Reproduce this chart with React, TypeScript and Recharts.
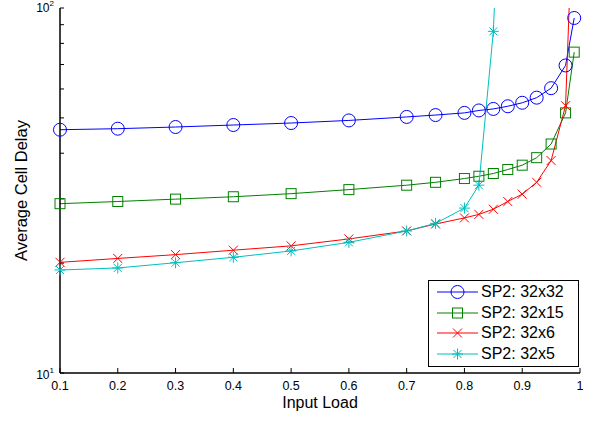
import React from "react";
import { LineChart, Line, XAxis, YAxis, Legend } from "recharts";

// x values (input load) shared by the three long runs
const inputLoad = [0.1, 0.2, 0.3, 0.4, 0.5, 0.6, 0.7, 0.75, 0.8, 0.825, 0.85, 0.875, 0.9, 0.925, 0.95, 0.975, 0.99];
const inputLoad32x5 = [0.1, 0.2, 0.3, 0.4, 0.5, 0.6, 0.7, 0.75, 0.8, 0.825, 0.85, 0.875];

const delay32x32 = [46.4, 46.7, 47.2, 47.8, 48.4, 49.2, 50.3, 50.9, 51.6, 52.4, 52.9, 53.8, 55.0, 56.8, 60.3, 69.6, 93.9];
const delay32x15 = [29.1, 29.5, 29.95, 30.4, 31.0, 31.8, 32.7, 33.3, 34.1, 34.6, 35.2, 36.1, 37.1, 38.9, 42.4, 51.6, 75.7];
const delay32x6 = [20.1, 20.6, 21.1, 21.7, 22.3, 23.3, 24.5, 25.6, 26.6, 27.2, 28.1, 29.5, 30.9, 33.3, 38.2, 54.0, 240];
const delay32x5 = [19.15, 19.4, 20.05, 20.75, 21.6, 22.8, 24.5, 25.7, 28.3, 32.7, 86.3, 700];

const xTicks = [0.1, 0.2, 0.3, 0.4, 0.5, 0.6, 0.7, 0.8, 0.9, 1];
const yTicks = [10, 20, 30, 40, 50, 60, 70, 80, 90, 100];

const FONT = '"Liberation Sans", Arial, Helvetica, sans-serif';

type Shape = "circle" | "square" | "cross" | "star";

const toRows = (xs: number[], ys: number[]) => xs.map((load, i) => ({ load, delay: ys[i] }));

const series = [
  { name: "SP2: 32x32", color: "#0000ff", shape: "circle" as Shape, data: toRows(inputLoad, delay32x32) },
  { name: "SP2: 32x15", color: "#008000", shape: "square" as Shape, data: toRows(inputLoad, delay32x15) },
  { name: "SP2: 32x6", color: "#ff0000", shape: "cross" as Shape, data: toRows(inputLoad, delay32x6) },
  { name: "SP2: 32x5", color: "#00bfbf", shape: "star" as Shape, data: toRows(inputLoad32x5, delay32x5) },
];

const frame = { stroke: "#000", strokeWidth: 1.5 };
const tickMark = { stroke: "#000", strokeWidth: 1 };

function Marker({ cx, cy, shape, color }: { cx: number; cy: number; shape: Shape; color: string }) {
  if (cx == null || cy == null || isNaN(cx) || isNaN(cy)) return <g />;
  const s = { stroke: color, strokeWidth: 1, fill: "none" };
  if (shape === "circle") return <circle cx={cx} cy={cy} r={6.5} {...s} />;
  if (shape === "square") return <rect x={cx - 5} y={cy - 5} width={10} height={10} {...s} />;
  if (shape === "cross")
    return (
      <path d={`M${cx - 4.5},${cy - 4.5}L${cx + 4.5},${cy + 4.5}M${cx - 4.5},${cy + 4.5}L${cx + 4.5},${cy - 4.5}`} {...s} />
    );
  return (
    <path
      d={`M${cx},${cy - 5.5}L${cx},${cy + 5.5}M${cx - 5.5},${cy}L${cx + 5.5},${cy}M${cx - 4},${cy - 4}L${cx + 4},${cy + 4}M${cx - 4},${cy + 4}L${cx + 4},${cy - 4}`}
      {...s}
    />
  );
}

function PowerTick({ x, y, payload }: any) {
  const v = payload.value;
  if (v !== 10 && v !== 100) return <g />;
  return (
    <text x={x} y={y + (v === 100 ? 4 : 6)} textAnchor="end" fontFamily={FONT} fontSize={12} fill="#000">
      <tspan>10</tspan>
      <tspan dy={-6} fontSize={8}>
        {Math.round(Math.log10(v))}
      </tspan>
    </text>
  );
}

function LegendBox() {
  return (
    <div
      style={{
        border: "1px solid #000",
        background: "#fff",
        boxSizing: "border-box",
        height: 87,
        paddingTop: 1,
        fontFamily: FONT,
        fontSize: 16,
        color: "#000",
      }}
    >
      {series.map((s) => (
        <div key={s.name} style={{ display: "flex", alignItems: "center", height: 20.6 }}>
          <svg width={52} height={20} style={{ display: "block" }}>
            <line x1={8} x2={49} y1={10} y2={10} stroke={s.color} strokeWidth={1} />
            <Marker cx={28.5} cy={10} shape={s.shape} color={s.color} />
          </svg>
          <span style={{ lineHeight: "20px" }}>{s.name}</span>
        </div>
      ))}
    </div>
  );
}

export default function App() {
  return (
    <div style={{ position: "absolute", left: 0, top: 0 }}>
      <LineChart width={594} height={422} margin={{ top: 8, right: 14, left: 0, bottom: 0 }}>
        <XAxis
          dataKey="load"
          type="number"
          domain={[0.1, 1]}
          ticks={xTicks}
          interval={0}
          height={49}
          tickSize={-5}
          tickMargin={13}
          tickFormatter={(v) => String(v)}
          axisLine={frame}
          tickLine={tickMark}
          tick={{ fill: "#000", fontSize: 12.5, fontFamily: FONT }}
          label={{
            value: "Input Load",
            content: ({ viewBox }: any) => (
              <text x={viewBox.x + viewBox.width / 2} y={viewBox.y + 35} textAnchor="middle" fontFamily={FONT} fontSize={16} fill="#000">
                Input Load
              </text>
            ),
          }}
        />
        <XAxis
          xAxisId="top"
          orientation="top"
          dataKey="load"
          type="number"
          domain={[0.1, 1]}
          ticks={xTicks}
          interval={0}
          height={0}
          tickSize={-5}
          tickFormatter={() => ""}
          axisLine={frame}
          tickLine={tickMark}
        />
        <YAxis
          yAxisId="left"
          scale="log"
          domain={[10, 100]}
          allowDataOverflow
          ticks={yTicks}
          interval={0}
          width={60}
          tickSize={-4}
          tickMargin={10}
          tick={<PowerTick />}
          axisLine={frame}
          tickLine={tickMark}
          label={{
            value: "Average Cell Delay",
            content: ({ viewBox }: any) => {
              const cx = viewBox.x + 21;
              const cy = viewBox.y + viewBox.height / 2;
              return (
                <text
                  x={cx}
                  y={cy}
                  transform={`rotate(-90 ${cx} ${cy})`}
                  textAnchor="middle"
                  dominantBaseline="central"
                  fontFamily={FONT}
                  fontSize={16.5}
                  fill="#000"
                >
                  Average Cell Delay
                </text>
              );
            },
          }}
        />
        <YAxis
          yAxisId="right"
          orientation="right"
          scale="log"
          domain={[10, 100]}
          allowDataOverflow
          ticks={yTicks}
          interval={0}
          width={0}
          tickSize={-4}
          tickFormatter={() => ""}
          axisLine={frame}
          tickLine={tickMark}
        />
        {series.map((s) => (
          <Line
            key={s.name}
            yAxisId="left"
            data={s.data}
            dataKey="delay"
            name={s.name}
            type="linear"
            stroke={s.color}
            strokeWidth={1}
            isAnimationActive={false}
            dot={(p: any) => <Marker key={`${s.name}-${p.index}`} cx={p.cx} cy={p.cy} shape={s.shape} color={s.color} />}
            activeDot={false}
          />
        ))}
        <Legend
          layout="vertical"
          align="center"
          verticalAlign="middle"
          wrapperStyle={{ left: 428, top: 280, width: 151 }}
          content={() => <LegendBox />}
        />
      </LineChart>
    </div>
  );
}
